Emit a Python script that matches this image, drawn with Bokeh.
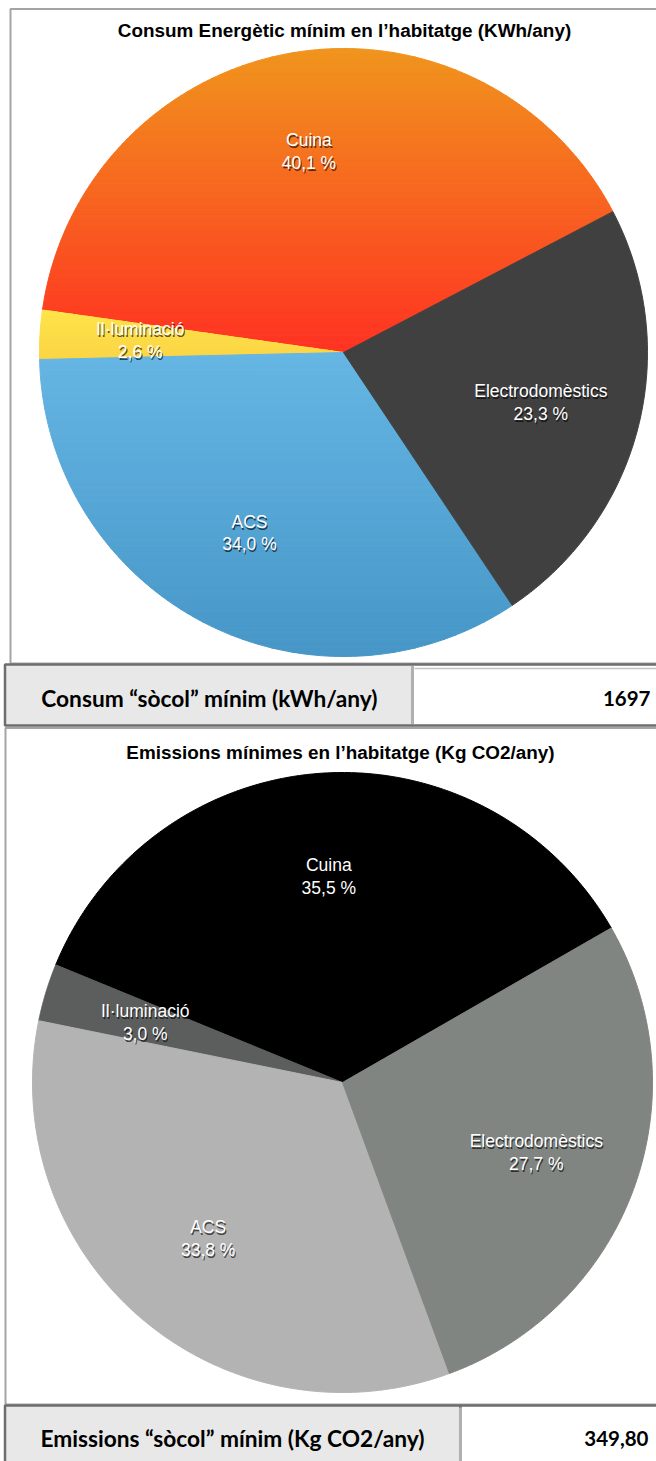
import numpy as np
from bokeh.plotting import figure
from bokeh.models import Range1d
from bokeh.core.properties import value
from bokeh.embed import file_html
from bokeh.resources import INLINE

# ---------------- data ----------------
chart1_title = "Consum Energètic mínim en l’habitatge (KWh/any)"
chart1_categories = ["Cuina", "Il·luminació", "ACS", "Electrodomèstics"]
chart1_values = [40.1, 2.6, 34.0, 23.3]

chart2_title = "Emissions mínimes en l’habitatge (Kg CO2/any)"
chart2_categories = ["Cuina", "Il·luminació", "ACS", "Electrodomèstics"]
chart2_values = [35.5, 3.0, 33.8, 27.7]

table_labels = ["Consum “sòcol” mínim (kWh/any)", "Emissions “sòcol” mínim (Kg CO2/any)"]
table_values = ["1697", "349,80"]

# ---------------- styles ----------------
chart1_colors = [("#f0951d", "#ff3222"), ("#fee44a", "#fbd546"),
                 ("#66b6e4", "#4696c7"), ("#404040", "#404040")]
chart2_colors = [("#000000", "#000000"), ("#5b5e5d", "#5b5e5d"),
                 ("#b3b3b3", "#b3b3b3"), ("#808582", "#808582")]

W, H = 656, 1461
p = figure(width=W, height=H, output_backend="svg", toolbar_location=None,
           x_range=Range1d(0, W), y_range=Range1d(H, 0),
           min_border=0, outline_line_color=None)
p.axis.visible = False
p.grid.visible = False
p.background_fill_color = "white"
p.border_fill_color = "white"


def hex2rgb(h):
    h = h.lstrip("#")
    return np.array([int(h[i:i + 2], 16) for i in (0, 2, 4)], dtype=float)


def mix(c0, c1, t):
    a, b = hex2rgb(c0), hex2rgb(c1)
    c = a + (b - a) * t
    return "#%02x%02x%02x" % tuple(int(round(v)) for v in c)


def clip(pts, yb, keep_below):
    out = []
    n = len(pts)
    for i in range(n):
        cur, prev = pts[i], pts[i - 1]
        cin = cur[1] >= yb if keep_below else cur[1] <= yb
        pin = prev[1] >= yb if keep_below else prev[1] <= yb
        if cin != pin:
            t = (yb - prev[1]) / (cur[1] - prev[1])
            out.append((prev[0] + t * (cur[0] - prev[0]), yb))
        if cin:
            out.append(cur)
    return out


def draw_pie(values, colors, cx, cy, R, start_deg, nbands=70):
    total = sum(values)
    a = np.radians(start_deg)
    mids = []
    xs_all, ys_all, cols = [], [], []
    for v, (c0, c1) in zip(values, colors):
        span = 2 * np.pi * v / total
        th = np.linspace(a, a + span, 200)
        pts = [(cx, cy)] + [(cx + R * np.cos(t), cy - R * np.sin(t)) for t in th]
        ymin = min(q[1] for q in pts)
        ymax = max(q[1] for q in pts)
        if c0 == c1:
            xs_all.append([q[0] for q in pts])
            ys_all.append([q[1] for q in pts])
            cols.append(c0)
        else:
            edges = np.linspace(ymin, ymax, nbands + 1)
            for k in range(nbands):
                band = clip(clip(pts, edges[k], True), edges[k + 1], False)
                if len(band) < 3:
                    continue
                xs_all.append([q[0] for q in band])
                ys_all.append([q[1] for q in band])
                cols.append(mix(c0, c1, (k + 0.5) / nbands))
        mids.append(a + span / 2)
        a += span
    p.patches(xs_all, ys_all, fill_color=cols, line_color=cols, line_width=1)
    return mids


def pct(v):
    return ("%.1f" % v).replace(".", ",") + " %"


def draw_labels(cats, values, mids, cx, cy, R, frac):
    lx, ly, l1, l2 = [], [], [], []
    for c, v, m in zip(cats, values, mids):
        lx.append(cx + frac * R * np.cos(m))
        ly.append(cy - frac * R * np.sin(m))
        l1.append(c)
        l2.append(pct(v))
    for txt, dy in ((l1, -11.5), (l2, 11)):
        base = dict(text_font=value("Liberation Sans"), text_font_size="17.5px",
                    text_align="center", text_baseline="middle")
        p.text(lx, ly, text=txt, text_color="black", text_alpha=0.65,
               x_offset=1, y_offset=dy + 2, **base)
        p.text(lx, ly, text=txt, text_color="white", x_offset=0, y_offset=dy, **base)


# ---------------- panels / frames ----------------
p.quad(left=[10], right=[700], top=[8.5], bottom=[663], fill_color="white",
       line_color="#a4a4a4", line_width=2)
p.quad(left=[5], right=[700], top=[727.5], bottom=[1404], fill_color="white",
       line_color="#a4a4a4", line_width=2)

# ---------------- pies ----------------
cx1, cy1, R1 = 343, 352, 304
m1 = draw_pie(chart1_values, chart1_colors, cx1, cy1, R1, 27.6)
draw_labels(chart1_categories, chart1_values, m1, cx1, cy1, R1, 0.67)

cx2, cy2, R2 = 342, 1082, 310
m2 = draw_pie(chart2_values, chart2_colors, cx2, cy2, R2, 29.9)
draw_labels(chart2_categories, chart2_values, m2, cx2, cy2, R2, 0.665)

# titles
p.text([344], [30], text=[chart1_title], text_font=value("Liberation Sans"),
       text_font_style="bold", text_font_size="18.9px", text_align="center",
       text_baseline="middle", text_color="black")
p.text([340], [752], text=[chart2_title], text_font=value("Liberation Sans"),
       text_font_style="bold", text_font_size="18.9px", text_align="center",
       text_baseline="middle", text_color="black")

# ---------------- tables ----------------
# row 1
p.quad(left=[4.5], right=[412], top=[664], bottom=[725], fill_color="#e8e8e8",
       line_color="#6e6e6e", line_width=2.5)
p.quad(left=[412], right=[700], top=[664], bottom=[725], fill_color="white",
       line_color="#6e6e6e", line_width=2.5)
p.segment(x0=[414], y0=[668], x1=[700], y1=[668], line_color="#c4c4c4", line_width=1.5)
p.segment(x0=[412], y0=[665], x1=[412], y1=[724], line_color="#b0b0b0", line_width=3)
# row 2
p.quad(left=[4.5], right=[460], top=[1405], bottom=[1500], fill_color="#e8e8e8",
       line_color="#6e6e6e", line_width=2.5)
p.quad(left=[460], right=[700], top=[1405], bottom=[1500], fill_color="white",
       line_color="#6e6e6e", line_width=2.5)
p.segment(x0=[460], y0=[1407], x1=[460], y1=[1500], line_color="#b0b0b0", line_width=3)

p.text([209, 232], [698, 1438], text=table_labels, text_font=value("Lato"),
       text_font_style="bold", text_font_size="22.7px", text_align="center",
       text_baseline="middle", text_color="black")
p.text([650, 648], [698, 1438], text=table_values, text_font=value("Lato"),
       text_font_style="bold", text_font_size="20.5px", text_align="right",
       text_baseline="middle", text_color="black")

open("out.html", "w").write(file_html(p, INLINE))
